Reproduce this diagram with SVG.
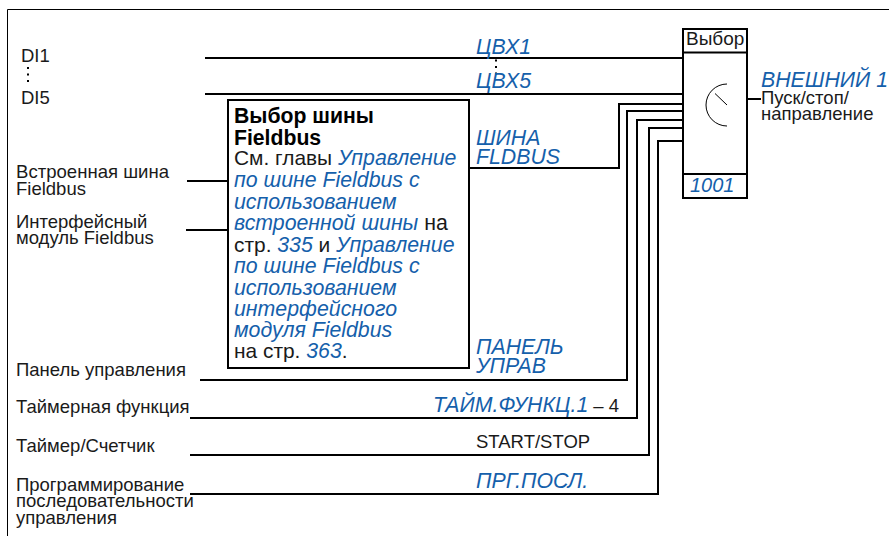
<svg xmlns="http://www.w3.org/2000/svg" width="889" height="536" viewBox="0 0 889 536">
<style>
text{font-family:"Liberation Sans",Arial,sans-serif;font-size:18.500px;fill:#1a1a1a}
.m{font-size:20.900px}
.b{fill:#1560ab;font-style:italic;font-size:21.300px}
.h{font-weight:bold;fill:#000;font-size:21.200px}
.w{fill:none;stroke:#000;stroke-width:2}
.t{fill:none;stroke:#000;stroke-width:1}
.n{font-style:normal;fill:#1a1a1a}
</style>
<defs><g id="dots"><rect x="0" y="0" width="2" height="2"/><rect x="0" y="6.500" width="2" height="2"/><rect x="0" y="13" width="2" height="2"/></g></defs>
<rect width="889" height="536" fill="#fff"/>
<path d="M7.500 536V9.500H889" fill="none" stroke="#000" stroke-width="1"/>
<g id="connectors">
<path class="w" d="M205 58H683"/>
<path class="w" d="M205 94H683"/>
<path class="w" d="M187 181H229"/>
<path class="w" d="M186 230H229"/>
<path class="w" d="M469 168H619V104H683"/>
<path class="w" d="M200 380H627V111H683"/>
<path class="w" d="M190 418H637V120H683"/>
<path class="w" d="M190 455H649V128H683"/>
<path class="w" d="M190 494H658V141H683"/>
<path class="w" d="M747 99H761"/>
</g>
<g id="inputs">
<text x="21" y="62">DI1</text>
<text x="21" y="104">DI5</text>
<use href="#dots" x="27" y="67"/>
<text x="16" y="178" textLength="153" lengthAdjust="spacingAndGlyphs">Встроенная шина</text>
<text x="16" y="195">Fieldbus</text>
<text x="16" y="228">Интерфейсный</text>
<text x="16" y="244">модуль Fieldbus</text>
<text x="16" y="376">Панель управления</text>
<text x="16" y="413">Таймерная функция</text>
<text x="16" y="452">Таймер/Счетчик</text>
<text x="16" y="491">Программирование</text>
<text x="16" y="507">последовательности</text>
<text x="16" y="524">управления</text>
</g>
<g id="note">
<rect x="228" y="100" width="241" height="268" fill="#fff" stroke="#000" stroke-width="2"/>
<text class="h" x="234" y="123">Выбор шины</text>
<text class="h" x="234" y="145">Fieldbus</text>
<text class="m" x="234" y="165">См. главы <tspan class="b">Управление</tspan></text>
<text class="b" x="234" y="187">по шине Fieldbus с</text>
<text class="b" x="234" y="209">использованием</text>
<text class="b" x="234" y="230">встроенной шины<tspan class="n"> на</tspan></text>
<text class="m" x="234" y="252">стр. <tspan class="b">335</tspan> и <tspan class="b">Управление</tspan></text>
<text class="b" x="234" y="273">по шине Fieldbus с</text>
<text class="b" x="234" y="295">использованием</text>
<text class="b" x="234" y="316">интерфейсного</text>
<text class="b" x="234" y="337">модуля Fieldbus</text>
<text class="m" x="234" y="358">на стр. <tspan class="b">363</tspan>.</text>
</g>
<g id="signals">
<text class="b" x="476" y="54">ЦВХ1</text>
<use href="#dots" x="495" y="59.500"/>
<text class="b" x="476" y="88">ЦВХ5</text>
<text class="b" x="476" y="145">ШИНА</text>
<text class="b" x="476" y="164">FLDBUS</text>
<text class="b" x="476" y="354">ПАНЕЛЬ</text>
<text class="b" x="476" y="373">УПРАВ</text>
<text class="b" x="433" y="412">ТАЙМ.ФУНКЦ.1<tspan class="n" style="font-size:18.500px"> – 4</tspan></text>
<text x="476" y="448">START/STOP</text>
<text class="b" x="476" y="488">ПРГ.ПОСЛ.</text>
</g>
<g id="selector">
<rect x="683" y="29" width="64" height="169" fill="#fff" stroke="#000" stroke-width="2"/>
<path class="w" d="M683 52.500H747M683 174H747"/>
<text x="686" y="45" style="font-size:19px">Выбор</text>
<path class="t" d="M727 84A21 21 0 0 0 727 126"/>
<path class="t" d="M715 93.500L727 105"/>
<text class="b" x="690" y="192" style="font-size:20px">1001</text>
</g>
<g id="output">
<text class="b" x="761" y="87">ВНЕШНИЙ 1</text>
<text x="761" y="104">Пуск/стоп/</text>
<text x="761" y="120">направление</text>
</g>
</svg>
